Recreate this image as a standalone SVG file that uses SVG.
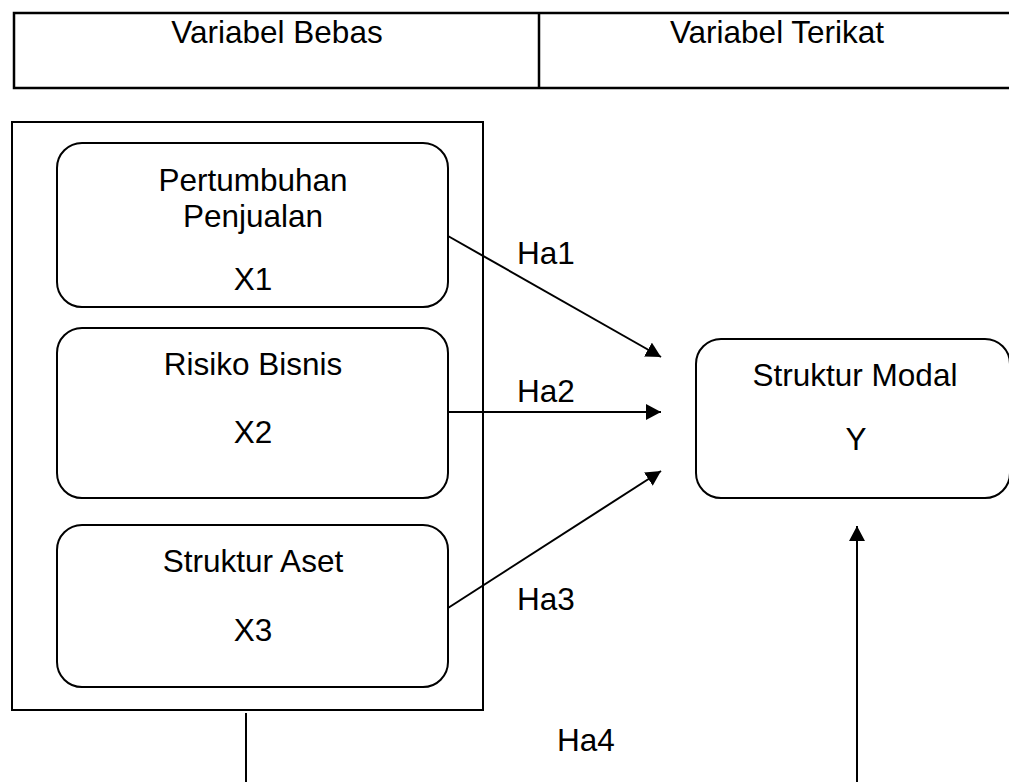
<svg xmlns="http://www.w3.org/2000/svg" width="1009" height="782" viewBox="0 0 1009 782">
<style>
text{font-family:"Liberation Sans",Arial,sans-serif;font-size:31.5px;fill:#000}
.c{text-anchor:middle}
.box{fill:#fff;stroke:#000;stroke-width:2}
.ln{fill:none;stroke:#000;stroke-width:2.5}
.cn{fill:none;stroke:#000;stroke-width:2}
</style>
<defs>
<marker id="ah" markerUnits="userSpaceOnUse" viewBox="0 0 15 16" refX="15" refY="8" markerWidth="15" markerHeight="16" orient="auto">
<path d="M0,0 L15,8 L0,16 Z" fill="#000"/>
</marker>
</defs>
<rect width="1009" height="782" fill="#fff"/>
<g id="table">
<path class="ln" d="M1012,13 H14 V88 H1012 M539,13 V88"/>
<text class="c" x="277" y="43">Variabel Bebas</text>
<text class="c" x="777" y="43">Variabel Terikat</text>
</g>
<g id="group-x">
<rect class="box" x="12" y="122" width="471" height="588"/>
</g>
<g id="x1">
<rect class="box" x="57" y="143" width="391" height="164" rx="25"/>
<text class="c" x="253" y="191">Pertumbuhan</text>
<text class="c" x="253" y="227">Penjualan</text>
<text class="c" x="253" y="290">X1</text>
</g>
<g id="x2">
<rect class="box" x="57" y="328" width="391" height="170" rx="25"/>
<text class="c" x="253" y="375">Risiko Bisnis</text>
<text class="c" x="253" y="443">X2</text>
</g>
<g id="x3">
<rect class="box" x="57" y="525" width="391" height="162" rx="25"/>
<text class="c" x="253" y="572">Struktur Aset</text>
<text class="c" x="253" y="641">X3</text>
</g>
<g id="y">
<rect class="box" x="696" y="339" width="314" height="159" rx="25"/>
<text class="c" x="855" y="386">Struktur Modal</text>
<text class="c" x="856" y="450">Y</text>
</g>
<g id="connectors">
<line class="cn" x1="448" y1="236" x2="661" y2="357" marker-end="url(#ah)"/>
<line class="cn" x1="448" y1="412" x2="661" y2="412" marker-end="url(#ah)"/>
<line class="cn" x1="448" y1="608" x2="661" y2="471" marker-end="url(#ah)"/>
<line class="cn" x1="246" y1="713" x2="246" y2="782"/>
<line class="cn" x1="857" y1="782" x2="857" y2="526" marker-end="url(#ah)"/>
<text x="517" y="264">Ha1</text>
<text x="517" y="402">Ha2</text>
<text x="517" y="610">Ha3</text>
<text x="557" y="751">Ha4</text>
</g>
</svg>
